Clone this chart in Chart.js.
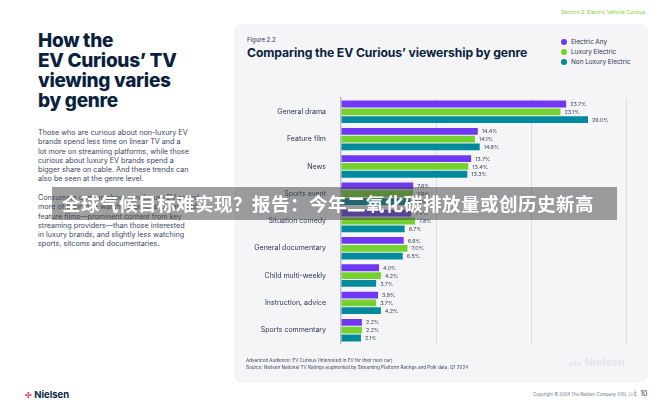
<!DOCTYPE html>
<html>
<head>
<meta charset="utf-8">
<script src="https://cdn.jsdelivr.net/npm/chart.js@4.4.1/dist/chart.umd.min.js"></script>
<style>
  html, body { margin: 0; padding: 0; }
  body { width: 672px; height: 408px; position: relative; overflow: hidden; background: #fff; font-family: Inter, "Noto Sans", sans-serif; color: #0b1f3f; }
  .abs { position: absolute; white-space: nowrap; }
  #section { left: 561px; top: 9px; font-size: 5.2px; color: #7fd13b; }
  #title { left: 38px; top: 31px; font-size: 19px; line-height: 20px; font-weight: 800; letter-spacing: -0.3px; color: #0b1f3f; }
  .para { left: 38px; font-size: 7.2px; line-height: 9.3px; color: #3b4563; }
  #panel { left: 234px; top: 24px; width: 414px; height: 359px; background: #f5f5f8; border-radius: 8px; }
  #fig { left: 247px; top: 36px; font-size: 6px; color: #2a3350; }
  #ctitle { left: 247px; top: 45px; font-size: 12.2px; font-weight: 700; color: #0b1f3f; letter-spacing: -0.1px; }
  .leg { left: 561px; font-size: 6.4px; color: #2a3350; }
  .leg i { display: inline-block; width: 6px; height: 6px; border-radius: 50%; margin-right: 4px; vertical-align: -1px; }
  #chartbox { position: absolute; left: 234px; top: 79px; width: 414px; height: 284px; }
  .foot { left: 246px; font-size: 4.6px; color: #3b4563; }
  #wm { left: 568px; top: 355px; font-size: 11px; font-weight: 600; color: #e2e3e8; }
  #copy { left: 533px; top: 392px; font-size: 4.3px; color: #6a7088; }
  #pg { left: 634px; top: 389px; font-size: 7px; color: #2a3350; }
  #logo { left: 25px; top: 389px; font-size: 9.5px; font-weight: 700; color: #0b1f3f; }
  #banner { left: 52px; top: 187px; width: 565px; height: 33px; background: rgba(70,70,70,0.52); }
  #btext { left: 62px; top: 190px; font-family: "Noto Sans CJK SC", sans-serif; font-weight: 700; font-size: 18.5px; line-height: 26px; color: #fff; letter-spacing: 0.5px; }
</style>
</head>
<body>
<div class="abs" id="section">Section 2: Electric Vehicle Curious</div>
<div class="abs" id="title">How the<br>EV Curious’ TV<br>viewing varies<br>by genre</div>
<div class="abs para" style="top:128px">Those who are curious about non-luxury EV<br>brands spend less time on linear TV and a<br>lot more on streaming platforms, while those<br>curious about luxury EV brands spend a<br>bigger share on cable. And these trends can<br>also be seen at the genre level.</div>
<div class="abs para" style="top:193px">Consumers curious about non-luxury EV spend<br>more of their time watching general drama and<br>feature films—prominent content from key<br>streaming providers—than those interested<br>in luxury brands, and slightly less watching<br>sports, sitcoms and documentaries.</div>

<div class="abs" id="panel"></div>
<div class="abs" id="fig">Figure 2.2</div>
<div class="abs" id="ctitle">Comparing the EV Curious’ viewership by genre</div>
<div class="abs leg" style="top:38px"><i style="background:#6e38f4"></i>Electric Any</div>
<div class="abs leg" style="top:48px"><i style="background:#74d12e"></i>Luxury Electric</div>
<div class="abs leg" style="top:58px"><i style="background:#008a9b"></i>Non Luxury Electric</div>

<div id="chartbox"><canvas id="c"></canvas></div>

<div class="abs foot" style="top:358px">Advanced Audience: EV Curious (Interested in EV for their next car)</div>
<div class="abs foot" style="top:365px">Source: Nielsen National TV Ratings augmented by Streaming Platform Ratings and Polk data, Q1 2024</div>
<div class="abs" id="wm"><span style="font-size:7px">◂✣▸</span> Nielsen</div>
<div class="abs" id="copy">Copyright © 2024 The Nielsen Company (US), LLC.</div>
<div class="abs" id="pg"><span style="color:#9aa0b0">|</span>&nbsp; 10</div>
<div class="abs" id="logo"><span style="color:#e8475f;font-size:8px">✣</span> Nielsen</div>

<div class="abs" id="banner"></div>
<div class="abs" id="btext">全球气候目标难实现？报告：今年二氧化碳排放量或创历史新高</div>

<script>
const genres = ['General drama', 'Feature film', 'News', 'Sports event', 'Situation comedy',
  'General documentary', 'Child multi-weekly', 'Instruction, advice', 'Sports commentary'];
const electricAny = [23.7, 14.4, 13.7, 7.6, 7.4, 6.6, 4.0, 3.9, 2.2];
const luxuryElectric = [23.1, 14.1, 13.4, 7.6, 7.8, 7.0, 4.2, 3.7, 2.2];
const nonLuxuryElectric = [26.0, 14.6, 13.3, 7.3, 6.7, 6.5, 3.7, 4.2, 2.1];
const xTicks = [0, 10, 20, 30];

// labels after each bar
const valueLabels = {
  id: 'valueLabels',
  afterDatasetsDraw(chart) {
    const ctx = chart.ctx;
    ctx.save();
    ctx.font = '5.4px Inter, sans-serif';
    ctx.fillStyle = '#3b4563';
    ctx.textBaseline = 'middle';
    chart.data.datasets.forEach((ds, i) => {
      chart.getDatasetMeta(i).data.forEach((bar, j) => {
        ctx.fillText(ds.data[j].toFixed(1) + '%', bar.x + 4, bar.y + 0.5);
      });
    });
    ctx.restore();
  }
};

new Chart(document.getElementById('c'), {
  type: 'bar',
  data: {
    labels: genres,
    datasets: [
      { label: 'Electric Any', data: electricAny, backgroundColor: '#6e38f4' },
      { label: 'Luxury Electric', data: luxuryElectric, backgroundColor: '#74d12e' },
      { label: 'Non Luxury Electric', data: nonLuxuryElectric, backgroundColor: '#008a9b' }
    ]
  },
  options: {
    indexAxis: 'y',
    responsive: true,
    maintainAspectRatio: false,
    animation: false,
    layout: { padding: { top: 5, bottom: 6, right: 22, left: 0 } },
    datasets: { bar: { categoryPercentage: 0.86, barPercentage: 0.87 } },
    plugins: { legend: { display: false }, tooltip: { enabled: false } },
    scales: {
      x: {
        min: 0, max: 30,
        afterBuildTicks: (s) => { s.ticks = xTicks.map(v => ({ value: v })); },
        afterFit: (s) => { s.height = 0; },
        ticks: { display: false },
        border: { display: false },
        grid: { drawTicks: false, lineWidth: 1, color: (c) => c.tick && c.tick.value === 0 ? 'rgba(0,0,0,0)' : '#dcdde3' }
      },
      y: {
        afterFit: (s) => { s.width = 107; },
        grid: { display: false, drawTicks: false },
        border: { display: true, color: '#b8bcc6', width: 1.5 },
        ticks: { padding: 15, color: '#2a3350', font: { family: 'Inter', size: 7 } }
      }
    }
  },
  plugins: [valueLabels]
});
</script>
</body>
</html>
